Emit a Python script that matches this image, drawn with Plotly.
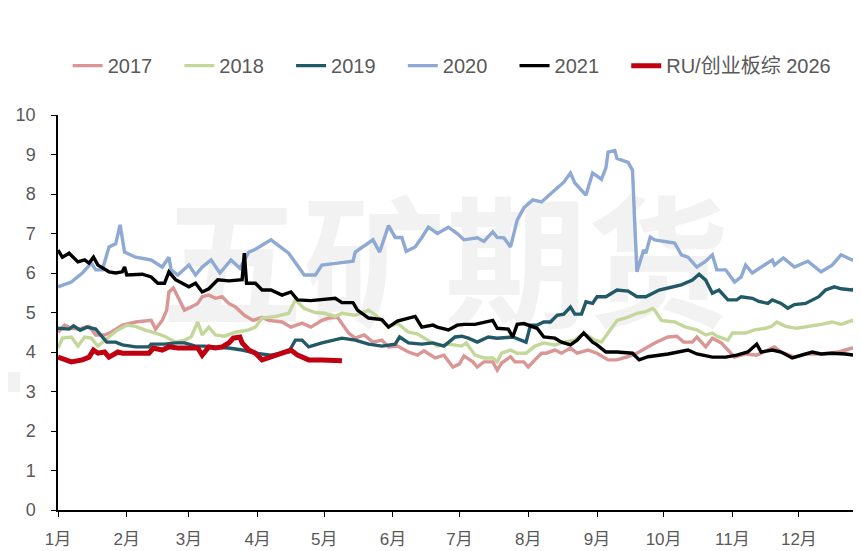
import plotly.graph_objects as go

# ---- data (day-of-year, value) ----
month_ticks = [0, 31, 59, 90, 120, 151, 181, 212, 243, 273, 304, 334]
month_labels = ["1月", "2月", "3月", "4月", "5月", "6月", "7月", "8月", "9月", "10月", "11月", "12月"]

x2017 = [0,3,6,9,14,17,21,24,29,35,42,44,47,49,50,52,54,57,60,63,65,68,71,74,77,80,84,88,92,95,101,105,110,114,119,122,126,128,131,134,138,142,146,149,153,158,162,165,170,174,178,181,183,187,189,192,196,198,200,204,206,210,212,215,218,220,224,227,231,234,239,243,248,252,257,261,265,269,275,279,282,286,288,292,295,299,302,305,310,315,323,326,332,337,344,352,358,361]
y2017 = [4.5,4.68,4.6,4.58,4.65,4.43,4.43,4.5,4.68,4.76,4.8,4.58,4.8,5.06,5.52,5.62,5.4,5.06,5.14,5.23,5.4,5.44,5.36,5.4,5.23,5.14,4.93,4.8,4.88,4.8,4.76,4.63,4.73,4.63,4.8,4.86,4.88,4.73,4.48,4.35,4.43,4.25,4.3,4.13,4.15,4.0,3.92,4.03,3.85,3.92,3.62,3.7,3.9,3.75,3.62,3.75,3.75,3.54,3.72,3.88,3.75,3.75,3.62,3.8,3.97,3.97,4.05,3.97,4.1,3.97,4.05,3.97,3.8,3.8,3.88,3.97,4.1,4.23,4.38,4.4,4.25,4.25,4.38,4.13,4.35,4.23,4.05,3.87,3.95,3.92,4.13,4.0,3.87,3.95,3.95,4.0,4.1,4.08]

x2018 = [0,2,6,9,12,15,18,21,24,27,31,35,39,44,48,53,57,60,63,65,68,71,75,80,86,89,92,98,104,107,111,116,120,125,128,134,140,144,149,153,158,162,167,171,176,179,182,184,188,192,196,198,200,204,207,211,215,219,224,228,233,237,242,245,248,252,257,261,265,268,269,272,278,283,288,292,295,297,302,304,310,314,319,322,324,328,333,340,344,349,353,358,361]
y2018 = [4.1,4.35,4.38,4.15,4.38,4.35,4.15,4.3,4.43,4.56,4.68,4.65,4.56,4.48,4.4,4.25,4.3,4.38,4.76,4.43,4.63,4.43,4.4,4.5,4.56,4.63,4.86,4.9,4.98,5.32,5.1,5.0,4.98,4.9,4.98,4.93,5.06,4.9,4.63,4.73,4.5,4.46,4.3,4.15,4.2,4.18,4.15,4.23,3.92,3.85,3.85,3.75,3.97,4.05,3.97,3.97,4.15,4.23,4.18,4.25,4.3,4.48,4.3,4.25,4.48,4.8,4.88,4.98,5.02,5.1,5.06,4.8,4.76,4.63,4.56,4.43,4.48,4.4,4.3,4.48,4.48,4.56,4.6,4.66,4.76,4.65,4.6,4.66,4.7,4.76,4.7,4.8,4.7]

x2019 = [0,5,7,10,13,17,20,22,26,29,35,41,42,48,53,57,62,66,71,77,83,89,96,104,107,110,113,119,128,134,140,146,152,154,158,164,169,174,179,182,185,189,194,198,205,209,211,213,216,219,222,225,228,231,233,236,238,241,243,247,252,257,261,265,268,271,275,281,286,289,292,295,298,302,306,308,313,316,320,322,326,329,332,337,343,346,350,353,358,361]
y2019 = [4.6,4.58,4.66,4.55,4.63,4.58,4.38,4.25,4.25,4.18,4.13,4.13,4.2,4.2,4.23,4.23,4.15,4.15,4.12,4.1,4.05,3.97,3.92,4.0,4.3,4.3,4.13,4.23,4.35,4.3,4.2,4.15,4.2,4.38,4.23,4.2,4.23,4.15,4.38,4.4,4.35,4.25,4.38,4.35,4.38,4.3,4.25,4.68,4.68,4.76,4.76,4.93,4.96,5.14,4.96,4.96,5.27,5.23,5.4,5.4,5.57,5.54,5.4,5.4,5.48,5.57,5.62,5.7,5.82,5.97,5.82,5.49,5.57,5.32,5.32,5.4,5.36,5.28,5.23,5.32,5.23,5.11,5.2,5.23,5.4,5.57,5.65,5.6,5.57,5.67]

x2020 = [0,6,11,15,17,20,23,26,28,30,35,42,47,50,51,54,59,62,65,69,73,78,82,86,89,96,104,111,116,119,126,133,134,142,145,149,152,155,157,161,164,167,171,176,180,183,189,192,196,198,201,204,207,210,214,218,224,228,231,233,238,241,243,245,247,248,251,252,257,259,260,261,264,265,267,269,278,281,284,288,292,295,297,301,305,308,310,313,317,322,323,327,332,338,344,349,353,358,361]
y2020 = [5.65,5.77,6.0,6.25,6.08,6.08,6.66,6.74,7.22,6.53,6.4,6.33,6.15,6.4,6.08,5.95,6.2,5.95,6.15,6.33,6.0,6.33,6.12,6.53,6.6,6.84,6.5,5.95,5.95,6.2,6.25,6.3,6.53,6.84,6.53,7.2,6.9,6.9,6.55,6.66,6.9,7.16,7.0,7.16,7.0,6.84,6.89,6.8,7.04,6.9,6.89,6.66,7.34,7.65,7.85,7.8,8.1,8.3,8.53,8.28,7.97,8.53,8.45,8.37,8.66,9.06,9.1,8.9,8.8,8.6,7.26,6.03,6.58,6.5,6.91,6.84,6.76,6.46,6.4,6.15,6.3,6.46,6.08,6.08,5.77,5.9,6.2,6.0,6.15,6.33,6.2,6.38,6.15,6.3,6.03,6.2,6.46,6.33,6.4]

x2021 = [0,2,5,9,12,14,16,18,23,26,29,30,31,38,42,45,48,50,53,56,59,62,65,68,72,77,81,83,84,85,89,92,96,101,105,108,114,119,125,128,133,135,140,146,149,153,158,161,164,169,171,176,180,183,188,194,196,198,203,205,207,210,213,216,219,224,227,231,234,237,241,243,247,252,259,262,266,271,275,284,288,295,301,306,311,315,317,322,326,331,335,340,344,349,355,359,361]
y2021 = [6.58,6.4,6.5,6.28,6.33,6.25,6.4,6.2,6.03,6.0,6.03,6.15,5.95,5.97,5.9,5.74,5.74,6.03,5.83,5.74,5.65,5.74,5.52,5.6,5.83,5.8,5.83,5.83,6.5,5.74,5.74,5.57,5.57,5.44,5.52,5.32,5.3,5.32,5.36,5.25,5.25,5.06,4.86,4.82,4.63,4.78,4.86,4.9,4.63,4.68,4.63,4.56,4.68,4.7,4.7,4.76,4.8,4.6,4.58,4.38,4.7,4.72,4.65,4.6,4.38,4.35,4.25,4.18,4.3,4.48,4.25,4.18,4.0,4.0,3.97,3.8,3.88,3.92,3.95,4.05,3.95,3.87,3.87,3.92,4.0,4.2,4.0,4.05,4.0,3.85,3.92,4.0,3.95,3.97,3.95,3.92,3.8]

x2026 = [0,3,6,11,14,16,18,21,23,27,29,33,38,41,43,47,50,54,59,63,65,68,71,74,77,79,82,83,86,89,92,96,99,102,105,108,113,119,126,128]
y2026 = [3.87,3.8,3.75,3.8,3.87,4.05,3.97,4.0,3.87,4.0,3.97,3.97,3.97,3.97,4.1,4.05,4.13,4.1,4.1,4.1,3.92,4.13,4.1,4.13,4.23,4.35,4.38,4.23,4.05,3.97,3.8,3.87,3.92,3.97,4.05,3.92,3.8,3.8,3.77,3.78]

series_names = ["2017", "2018", "2019", "2020", "2021", "RU/创业板综 2026"]
series = [
    (x2017, y2017, "#DA9694", 3.4),
    (x2018, y2018, "#C4D79B", 3.4),
    (x2019, y2019, "#215967", 3.4),
    (x2020, y2020, "#8EA9D3", 3.4),
    (x2021, y2021, "#000000", 3.4),
    (x2026, y2026, "#C00010", 5),
]

FONT = "Liberation Sans, Noto Sans CJK SC, sans-serif"
GREY = "#595959"
PAD = "\u00a0" * 4  # spacing between legend entries

fig = go.Figure()
for i, (name, (xs, ys, col, w)) in enumerate(zip(series_names, series)):
    label = name + (PAD if i < len(series_names) - 1 else "")
    fig.add_trace(go.Scatter(x=xs, y=ys, mode="lines", name=label,
                             line=dict(color=col, width=w)))

fig.update_layout(
    width=853, height=543,
    margin=dict(l=50, r=0, t=107, b=41),
    paper_bgcolor="white", plot_bgcolor="white",
    font=dict(family=FONT, color=GREY, size=17),
    showlegend=True,
    legend=dict(orientation="h", x=0.012, y=1.125, xanchor="left", yanchor="middle",
                font=dict(size=20, color=GREY, family=FONT),
                itemwidth=30, bgcolor="rgba(0,0,0,0)"),
    xaxis=dict(range=[0, 362], tickmode="array", tickvals=month_ticks, ticktext=month_labels,
               showgrid=False, zeroline=False, showline=True, linecolor="black", linewidth=1.5,
               ticks="outside", ticklen=5, tickcolor="black", tickwidth=1.2,
               tickfont=dict(size=17, color=GREY), ticklabelstandoff=8),
    yaxis=dict(range=[0, 10], dtick=1, tick0=0,
               showgrid=False, zeroline=False, showline=True, linecolor="black", linewidth=1.5,
               ticks="outside", ticklen=5, tickcolor="black", tickwidth=1.2,
               tickfont=dict(size=18, color=GREY), ticklabelstandoff=12),
    shapes=[
        dict(type="rect", xref="paper", yref="paper", x0=0.072, x1=0.892, y0=0.40, y1=0.78,
             line=dict(width=0), fillcolor="rgba(0,0,0,0)", layer="below",
             label=dict(text="<b>五矿期货</b>", textposition="middle center",
                        font=dict(size=142, color="#F2F2F2", family="Noto Sans CJK SC"))),
        dict(type="rect", xref="paper", yref="paper", x0=-0.0722, x1=-0.047, y0=0.299, y1=0.349,
             line=dict(width=0), fillcolor="#F2F2F2", layer="below"),
    ],
)

fig.write_html("out.html")
